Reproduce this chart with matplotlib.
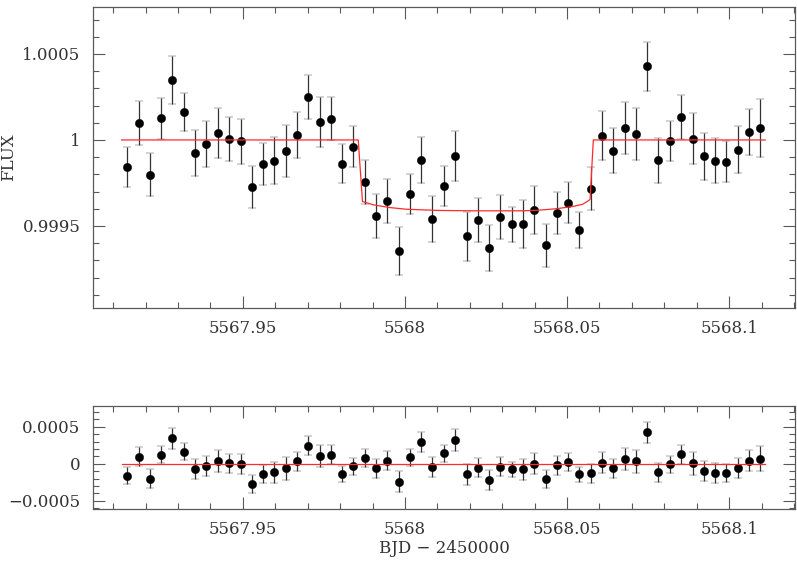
import numpy as np
import matplotlib
matplotlib.use('Agg')
import matplotlib.pyplot as plt
from matplotlib.ticker import MultipleLocator

# binned times (BJD - 2450000)
t = [5567.9144, 5567.9179, 5567.9214, 5567.9249, 5567.9283, 5567.9318,
     5567.9353, 5567.9388, 5567.9423, 5567.9458, 5567.9493, 5567.9527,
     5567.9562, 5567.9597, 5567.9632, 5567.9667, 5567.9702, 5567.9737,
     5567.9771, 5567.9806, 5567.9841, 5567.9876, 5567.9911, 5567.9946,
     5567.9981, 5568.0015, 5568.0050, 5568.0085, 5568.0120, 5568.0155,
     5568.0190, 5568.0225, 5568.0259, 5568.0294, 5568.0329, 5568.0364,
     5568.0399, 5568.0434, 5568.0469, 5568.0503, 5568.0538, 5568.0573,
     5568.0608, 5568.0643, 5568.0678, 5568.0713, 5568.0747, 5568.0782,
     5568.0817, 5568.0852, 5568.0887, 5568.0922, 5568.0957, 5568.0991,
     5568.1026, 5568.1061, 5568.1096]

flux = [0.999842, 1.000097, 0.999799, 1.000126, 1.000348, 1.000164,
        0.999926, 0.999977, 1.000039, 1.000008, 0.999992, 0.999726,
        0.999861, 0.999880, 0.999938, 1.000031, 1.000248, 1.000104,
        1.000124, 0.999863, 0.999961, 0.999756, 0.999559, 0.999646,
        0.999356, 0.999685, 0.999882, 0.999542, 0.999733, 0.999907,
        0.999441, 0.999536, 0.999372, 0.999552, 0.999509, 0.999513,
        0.999592, 0.999387, 0.999577, 0.999636, 0.999478, 0.999716,
        1.000025, 0.999936, 1.000068, 1.000033, 1.000429, 0.999882,
        0.999994, 1.000132, 1.000008, 0.999905, 0.999880, 0.999874,
        0.999944, 1.000046, 1.000068]

err = [1.18, 1.29, 1.24, 1.20, 1.39, 1.10, 1.33, 1.32, 1.44, 1.28,
       1.32, 1.24, 1.21, 1.36, 1.51, 1.33, 1.28, 1.45, 1.26, 1.13,
       1.20, 1.26, 1.29, 1.28, 1.39, 1.17, 1.35, 1.33, 1.17, 1.47,
       1.42, 1.29, 1.33, 1.28, 1.04, 1.40, 1.39, 1.24, 1.22, 1.20,
       1.04, 1.26, 1.41, 1.31, 1.52, 1.52, 1.42, 1.31, 1.16, 1.28,
       1.50, 1.35, 1.32, 1.19, 1.35, 1.36, 1.68]
err = np.array(err) * 1e-4

resid = [-0.000161, 0.000098, -0.000201, 0.000125, 0.000343, 0.000165,
         -0.000072, -0.000027, 0.000040, 0.000008, 0.000000, -0.000273,
         -0.000139, -0.000117, -0.000063, 0.000031, 0.000245, 0.000107,
         0.000121, -0.000139, -0.000036, 0.000080, -0.000059, 0.000040,
         -0.000241, 0.000089, 0.000290, -0.000045, 0.000142, 0.000322,
         -0.000143, -0.000054, -0.000214, -0.000040, -0.000076, -0.000076,
         0.000000, -0.000206, -0.000023, 0.000021, -0.000143, -0.000130,
         0.000017, -0.000063, 0.000067, 0.000031, 0.000424, -0.000117,
         -0.000009, 0.000129, 0.000004, -0.000094, -0.000121, -0.000126,
         -0.000059, 0.000044, 0.000067]

# transit model
model_t = [5567.9126, 5567.9856, 5567.9869, 5567.9902, 5567.9953, 5568.0005,
           5568.0107, 5568.0209, 5568.0363, 5568.0415, 5568.0466, 5568.0517,
           5568.0548, 5568.0567, 5568.0571, 5568.0581, 5568.1111]
model_f = [1.0, 1.0, 0.999642, 0.999623, 0.999607, 0.999597,
           0.99959, 0.999588, 0.999588, 0.999592, 0.9996, 0.999613,
           0.999626, 0.999648, 0.999655, 1.0, 1.0]

xticks = [5567.95, 5568.0, 5568.05, 5568.1]
xlabels = ['5567.95', '5568', '5568.05', '5568.1']

plt.rcParams['font.family'] = 'DejaVu Serif'
txt = '0.2'

fig = plt.figure(figsize=(7.97, 5.61), dpi=100)
ax1 = fig.add_axes([0.1167, 0.451, 0.8808, 0.5365])
ax2 = fig.add_axes([0.1167, 0.0927, 0.8808, 0.1836])

for ax, y, line_y in [(ax1, flux, model_f), (ax2, resid, [0] * len(model_t))]:
    ax.errorbar(t, y, yerr=err, fmt='o', color='black', ms=6, mec='black', mew=0.3,
                ecolor='0.2', elinewidth=0.9, capsize=3, capthick=1.0, zorder=3)
    ax.plot(model_t, line_y, color='#ff2a2a', lw=0.9, zorder=4)
    ax.set_xlim(5567.9038, 5568.1203)
    ax.set_xticks(xticks)
    ax.set_xticklabels(xlabels)
    ax.xaxis.set_minor_locator(MultipleLocator(0.01))
    ax.yaxis.set_minor_locator(MultipleLocator(0.0001))
    ax.tick_params(which='both', direction='in', top=True, right=True,
                   color='0.35', labelsize=12, labelcolor=txt)
    ax.tick_params(which='major', length=8.5, width=0.8, pad=9)
    ax.tick_params(which='minor', length=4.3, width=0.8)
    for s in ax.spines.values():
        s.set_color('0.35')
        s.set_linewidth(0.9)

ax1.set_ylim(0.999023, 1.000773)
ax1.set_yticks([0.9995, 1.0, 1.0005])
ax1.set_yticklabels(['0.9995', '1', '1.0005'])
ax1.set_ylabel('FLUX', fontsize=12, color=txt)
ax1.yaxis.set_label_coords(-0.108, 0.5)

ax2.set_ylim(-0.00061, 0.00078)
ax2.set_yticks([-0.0005, 0, 0.0005])
ax2.set_yticklabels(['\u22120.0005', '0', '0.0005'])
ax2.set_xlabel('BJD \u2212 2450000', fontsize=12, color=txt)
ax2.xaxis.set_label_coords(0.5, -0.3)

fig.savefig('out.png', dpi=100)
